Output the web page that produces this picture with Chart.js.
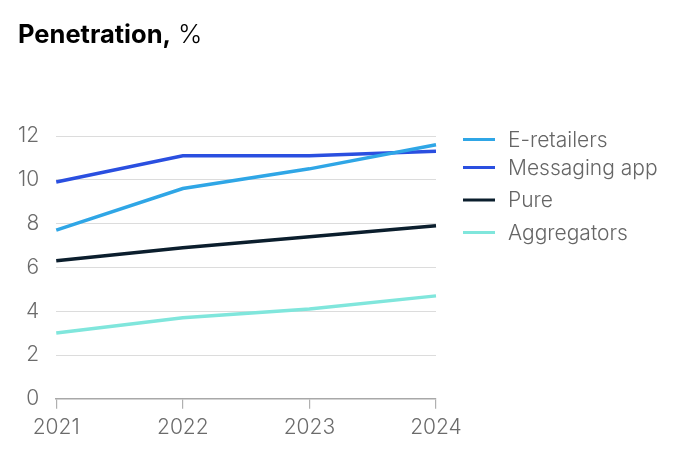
<!DOCTYPE html>
<html><head><meta charset="utf-8">
<script src="https://cdn.jsdelivr.net/npm/chart.js@4/dist/chart.umd.min.js"></script>
<style>html,body{margin:0;padding:0;background:#fff}#wrap{width:688px;height:466px;position:relative}</style>
</head><body><div id="wrap"><canvas id="c"></canvas></div>
<script>
const years = ["2021","2022","2023","2024"];
const eRetailers = [7.7, 9.6, 10.5, 11.6];
const messagingApp = [9.9, 11.1, 11.1, 11.3];
const pure = [6.3, 6.9, 7.4, 7.9];
const aggregators = [3.0, 3.7, 4.1, 4.7];
const seriesNames = ["E-retailers","Messaging app","Pure","Aggregators"];
const yTicks = [0,2,4,6,8,10,12];
const colors = ["#2fa6e6","#2a4fe0","#0b1e2d","#80e6dc"];
const FONT = "Inter, 'Liberation Sans', sans-serif";

const overlay = {
  id:'overlay',
  afterDraw(chart){
    const ctx = chart.ctx;
    ctx.save();
    ctx.textBaseline='alphabetic';
    ctx.fillStyle='#000';
    ctx.font="bold 25.5px "+FONT;
    ctx.fillText("Penetration,",18,43);
    const w = ctx.measureText("Penetration, ").width;
    ctx.font="300 26px "+FONT;
    ctx.fillText("%",19+w,43);
    const rows=[139.5,167.5,200,232.5];
    chart.data.datasets.forEach((ds,i)=>{
      ctx.strokeStyle=ds.borderColor;
      ctx.lineWidth=3;
      ctx.beginPath();ctx.moveTo(463,rows[i]);ctx.lineTo(495,rows[i]);ctx.stroke();
      ctx.fillStyle='#666';
      ctx.font="300 21px "+FONT;
      ctx.textBaseline='middle';
      ctx.fillText(ds.label,508,rows[i]+1);
    });
    ctx.restore();
  }
};

new Chart(document.getElementById('c'),{
  type:'line',
  data:{labels:years,datasets:[
    {label:seriesNames[0],data:eRetailers,borderColor:colors[0]},
    {label:seriesNames[1],data:messagingApp,borderColor:colors[1]},
    {label:seriesNames[2],data:pure,borderColor:colors[2]},
    {label:seriesNames[3],data:aggregators,borderColor:colors[3]}
  ].map(d=>Object.assign(d,{borderWidth:3.5,pointRadius:0,tension:0,fill:false}))},
  plugins:[overlay],
  options:{
    responsive:true,maintainAspectRatio:false,animation:false,
    layout:{padding:{left:1,right:252,top:136,bottom:20}},
    plugins:{legend:{display:false},tooltip:{enabled:false}},
    scales:{
      x:{
        offset:false,
        grid:{drawOnChartArea:false,drawTicks:true,tickLength:10,color:'#b0b0b0',lineWidth:1.2},
        border:{display:true,color:'#a8a8a8',width:1.5},
        ticks:{color:'#6b6b6b',font:{family:FONT,size:21,weight:'300'},padding:6,maxRotation:0}
      },
      y:{
        min:0,max:12,
        afterBuildTicks(axis){axis.ticks=yTicks.map(v=>({value:v}));},
        grid:{drawTicks:false,color:'#dcdcdc',lineWidth:1},
        border:{display:false},
        ticks:{color:'#6b6b6b',font:{family:FONT,size:21,weight:'300'},padding:17}
      }
    }
  }
});
</script></body></html>
